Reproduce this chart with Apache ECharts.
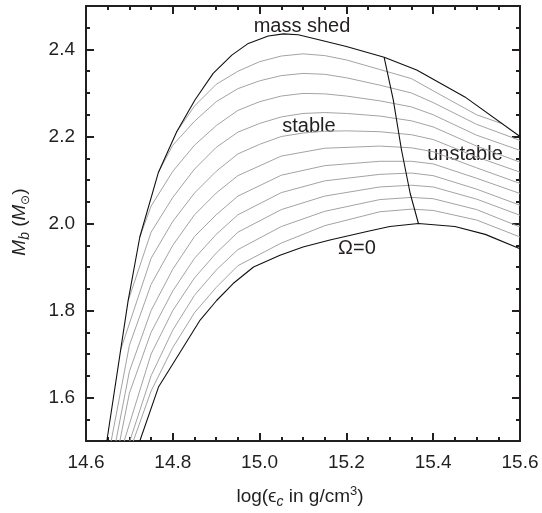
<!DOCTYPE html>
<html><head><meta charset="utf-8">
<script src="https://cdn.jsdelivr.net/npm/echarts@6/dist/echarts.min.js"></script>
<style>html,body{margin:0;padding:0;background:#fff}#c{width:542px;height:513px}</style>
</head><body><div id="c"></div>
<script>
// ---- data (log eps_c, M_b) ----
const xTickLabels = [14.6, 14.8, 15.0, 15.2, 15.4, 15.6];
const yTickLabels = [1.6, 1.8, 2.0, 2.2, 2.4];

const massShed = [[14.648,1.5],[14.697,1.822],[14.724,1.969],[14.767,2.118],[14.809,2.211],[14.851,2.284],[14.893,2.345],[14.936,2.387],[14.974,2.414],[15.02,2.431],[15.055,2.436],[15.089,2.434],[15.139,2.422],[15.2,2.407],[15.287,2.382],[15.362,2.353],[15.473,2.291],[15.6,2.2]];
const omegaZero = [[14.724,1.5],[14.767,1.624],[14.8,1.677],[14.863,1.778],[14.901,1.823],[14.939,1.862],[14.986,1.90],[15.047,1.927],[15.1,1.946],[15.162,1.962],[15.25,1.982],[15.3,1.993],[15.366,2.0],[15.45,1.993],[15.52,1.975],[15.6,1.942]];
const stabilityLine = [[15.287,2.382],[15.308,2.284],[15.327,2.169],[15.347,2.069],[15.366,2.0]];

const gray1  = [[14.709,1.5],[14.75,1.615],[14.8,1.715],[14.85,1.795],[14.9,1.853],[14.95,1.903],[15.05,1.955],[15.15,1.995],[15.277,2.027],[15.35,2.033],[15.4,2.030],[15.5,2.008],[15.6,1.969]];
const gray2  = [[14.701,1.5],[14.75,1.65],[14.8,1.755],[14.85,1.835],[14.9,1.893],[14.95,1.94],[15.05,1.993],[15.15,2.028],[15.277,2.055],[15.35,2.06],[15.4,2.057],[15.5,2.032],[15.6,1.992]];
const gray3  = [[14.688,1.5],[14.75,1.70],[14.8,1.80],[14.85,1.875],[14.9,1.932],[14.95,1.98],[15.05,2.032],[15.15,2.063],[15.277,2.084],[15.35,2.088],[15.4,2.084],[15.5,2.056],[15.6,2.019]];
const gray4  = [[14.678,1.5],[14.7,1.61],[14.75,1.75],[14.8,1.845],[14.85,1.92],[14.9,1.975],[14.95,2.02],[15.05,2.071],[15.15,2.098],[15.277,2.113],[15.35,2.116],[15.4,2.11],[15.5,2.079],[15.6,2.042]];
const gray5  = [[14.669,1.5],[14.7,1.66],[14.75,1.80],[14.8,1.895],[14.85,1.97],[14.9,2.02],[14.95,2.063],[15.05,2.111],[15.15,2.133],[15.277,2.143],[15.35,2.143],[15.4,2.137],[15.5,2.104],[15.6,2.069]];
const gray6  = [[14.658,1.5],[14.7,1.72],[14.75,1.86],[14.8,1.95],[14.85,2.02],[14.9,2.07],[14.95,2.11],[15.05,2.155],[15.15,2.173],[15.277,2.178],[15.35,2.174],[15.4,2.165],[15.5,2.128],[15.6,2.092]];
const gray7  = [[14.68,1.71],[14.75,1.92],[14.8,2.005],[14.85,2.07],[14.9,2.12],[14.95,2.16],[15.0,2.182],[15.05,2.2],[15.1,2.208],[15.15,2.212],[15.2,2.213],[15.277,2.211],[15.35,2.204],[15.4,2.193],[15.5,2.153],[15.6,2.118]];
const gray8  = [[14.697,1.822],[14.75,1.98],[14.8,2.06],[14.85,2.125],[14.9,2.175],[14.95,2.21],[15.0,2.23],[15.05,2.245],[15.1,2.253],[15.15,2.255],[15.2,2.253],[15.277,2.247],[15.35,2.236],[15.4,2.222],[15.5,2.178],[15.6,2.141]];
const gray9  = [[14.724,1.969],[14.75,2.04],[14.8,2.12],[14.85,2.18],[14.9,2.225],[14.95,2.26],[15.0,2.28],[15.05,2.293],[15.1,2.299],[15.15,2.298],[15.2,2.293],[15.277,2.282],[15.35,2.268],[15.4,2.25],[15.5,2.203],[15.6,2.168]];
const gray10 = [[14.767,2.118],[14.8,2.18],[14.85,2.235],[14.9,2.28],[14.95,2.31],[15.0,2.328],[15.05,2.34],[15.1,2.345],[15.15,2.343],[15.2,2.335],[15.277,2.318],[15.35,2.30],[15.4,2.278],[15.5,2.228],[15.6,2.191]];
const gray11 = [[14.809,2.211],[14.85,2.27],[14.9,2.32],[14.95,2.35],[15.0,2.372],[15.05,2.385],[15.1,2.39],[15.15,2.386],[15.2,2.376],[15.277,2.354],[15.35,2.333],[15.4,2.305],[15.5,2.25],[15.56,2.229]];
const grayCurves = [gray1,gray2,gray3,gray4,gray5,gray6,gray7,gray8,gray9,gray10,gray11];

// ---- chart ----
const FONT = '"Liberation Sans", Arial, Helvetica, sans-serif';
const TXT = '#231f20';
const AX = {color:'#231f20', width:2};
const chart = echarts.init(document.getElementById('c'), null, {renderer:'canvas'});

const xBase = (pos, labels) => ({
  type:'value', position:pos, min:14.6, max:15.6, interval:0.2,
  axisLine:{show:true, onZero:false, lineStyle:AX},
  axisTick:{show:true, inside:true, length:8, lineStyle:AX},
  minorTick:{show:true, splitNumber:4, length:4, lineStyle:AX},
  splitLine:{show:false}, minorSplitLine:{show:false},
  axisLabel:{show:labels, margin:12, fontSize:19, fontFamily:FONT, color:TXT, formatter:v=>v.toFixed(1)}
});
const yMinor = (pos) => ({
  type:'value', position:pos, min:1.5, max:2.5, interval:0.05,
  axisLine:{show:true, onZero:false, lineStyle:AX},
  axisTick:{show:true, inside:true, length:4, lineStyle:AX},
  splitLine:{show:false}, axisLabel:{show:false}
});
const yMajor = (pos, labels) => ({
  type:'value', position:pos, min:1.5, max:2.5,
  axisLine:{show:false},
  axisTick:{show:true, inside:true, length:8, lineStyle:AX, customValues:yTickLabels},
  splitLine:{show:false},
  axisLabel:{show:labels, customValues:yTickLabels, margin:11, fontSize:19, fontFamily:FONT, color:TXT, formatter:v=>v.toFixed(1)}
});

const series = [];
grayCurves.forEach((c,i)=>series.push({type:'line', name:'gray'+(i+1), data:c, showSymbol:false, symbol:'none', silent:true,
  lineStyle:{color:'#a3a3a3', width:1}, z:2, clip:true, animation:false}));
[massShed, omegaZero, stabilityLine].forEach((c,i)=>series.push({type:'line', name:['massShed','omega0','stability'][i], data:c, showSymbol:false, symbol:'none', silent:true,
  lineStyle:{color:'#111', width:1.1}, z:3, clip:true, animation:false}));

const rt = (s)=>Object.assign({fontFamily:FONT, fill:TXT}, s);
chart.setOption({
  animation:false,
  grid:{left:86, right:22, top:6, bottom:72, containLabel:false},
  xAxis:[xBase('bottom', true), xBase('top', false)],
  yAxis:[yMinor('left'), yMajor('left', true), yMinor('right'), yMajor('right', false)],
  series: series,
  graphic:[
    {type:'text', x:300, y:497, style:{text:'{a|log(}{a|ϵ}{s|c}{a| in g/cm}{p|3}{a|)}', align:'center', verticalAlign:'middle',
      rich:{a:rt({fontSize:19, lineHeight:24}), s:rt({fontSize:14, fontStyle:'italic', lineHeight:14, verticalAlign:'bottom'}), p:rt({fontSize:13, lineHeight:13, verticalAlign:'top'})}}},
    {type:'text', x:20, y:222, rotation:Math.PI/2, style:{text:'{i|M}{s|b}{a| (}{i|M}{o|⊙}{a|)}', align:'center', verticalAlign:'middle',
      rich:{a:rt({fontSize:19, lineHeight:24}), i:rt({fontSize:19, fontStyle:'italic', lineHeight:24}), s:rt({fontSize:14, fontStyle:'italic', lineHeight:14, verticalAlign:'bottom'}), o:rt({fontSize:12, lineHeight:12, verticalAlign:'bottom'})}}},
    {type:'text', x:302, y:26, style:{text:'mass shed', font:'20px '+FONT, fill:TXT, align:'center', verticalAlign:'middle'}},
    {type:'text', x:309, y:126, style:{text:'stable', font:'20px '+FONT, fill:TXT, align:'center', verticalAlign:'middle'}},
    {type:'text', x:465, y:154, style:{text:'unstable', font:'20px '+FONT, fill:TXT, align:'center', verticalAlign:'middle'}},
    {type:'text', x:357, y:248, style:{text:'Ω=0', font:'20px '+FONT, fill:TXT, align:'center', verticalAlign:'middle'}}
  ]
});
</script></body></html>
